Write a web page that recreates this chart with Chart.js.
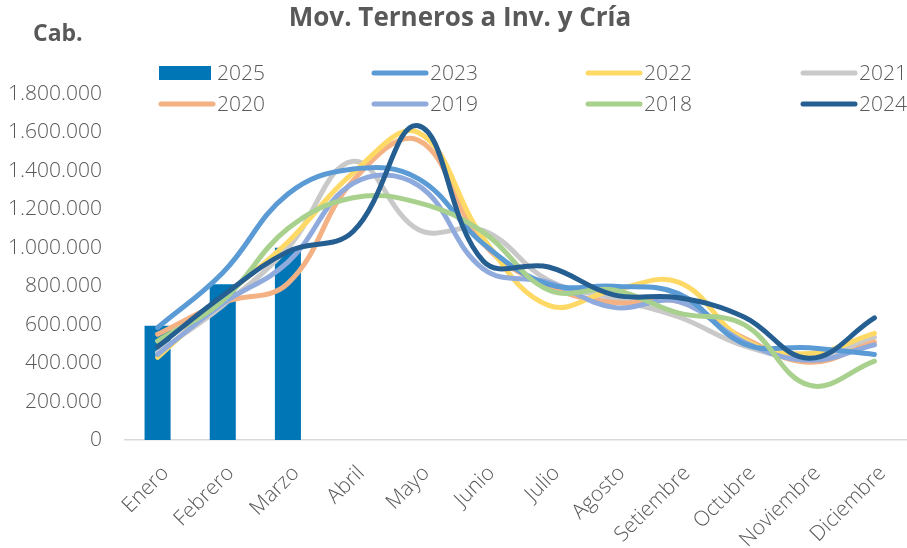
<!DOCTYPE html>
<html>
<head>
<meta charset="utf-8">
<script src="https://cdn.jsdelivr.net/npm/chart.js@4"></script>
<style>
  html, body { margin: 0; padding: 0; background: #fff; }
  #wrap { width: 907px; height: 548px; }
</style>
</head>
<body>
<div id="wrap"><canvas id="movChart" width="907" height="548"></canvas></div>
<script>
// Datos (cabezas por mes)
const meses = ['Enero', 'Febrero', 'Marzo', 'Abril', 'Mayo', 'Junio', 'Julio', 'Agosto', 'Setiembre', 'Octubre', 'Noviembre', 'Diciembre'];
const v2025 = [595000, 810000, 1000000, null, null, null, null, null, null, null, null, null];
const v2023 = [585000, 870000, 1280000, 1410000, 1360000, 1020000, 810000, 800000, 760000, 500000, 480000, 445000];
const v2022 = [430000, 740000, 1030000, 1390000, 1600000, 1050000, 700000, 780000, 820000, 520000, 450000, 555000];
const v2021 = [455000, 700000, 1000000, 1450000, 1095000, 1090000, 830000, 735000, 640000, 490000, 430000, 535000];
const v2020 = [550000, 715000, 815000, 1350000, 1560000, 1020000, 800000, 715000, 720000, 530000, 405000, 510000];
const v2019 = [445000, 710000, 925000, 1335000, 1325000, 890000, 820000, 690000, 720000, 510000, 415000, 495000];
const v2018 = [515000, 725000, 1100000, 1260000, 1235000, 1080000, 780000, 780000, 660000, 600000, 285000, 410000];
const v2024 = [485000, 750000, 980000, 1085000, 1635000, 930000, 900000, 755000, 740000, 640000, 425000, 635000];
const yTicks = [0, 200000, 400000, 600000, 800000, 1000000, 1200000, 1400000, 1600000, 1800000];

const gris = '#595959';
const fuente = "'Open Sans', sans-serif";

function linea(label, data, color, order) {
    return {
        type: 'line', label: label, data: data,
        borderColor: color, backgroundColor: color,
        borderWidth: 5, pointRadius: 0, tension: 0.4,
        borderCapStyle: 'round', fill: false, order: order
    };
}

// formato 1.800.000
function puntos(v) {
    return String(v).replace(/\B(?=(\d{3})+(?!\d))/g, '.');
}

// leyenda, titulo y "Cab." dibujados a mano (posiciones como en el original)
const extras = {
    id: 'extras',
    afterDraw(chart) {
        const c = chart.ctx;
        c.save();
        c.fillStyle = gris;
        c.textBaseline = 'middle';
        c.font = "bold 26px " + fuente;
        c.textAlign = 'center';
        c.fillText('Mov. Terneros a Inv. y Cría', 460, 19);
        c.font = "bold 23px " + fuente;
        c.textAlign = 'left';
        c.fillText('Cab.', 33, 34);

        const colX = [159, 372, 586, 801];
        const rowY = [73, 104];
        chart.data.datasets.forEach((ds, i) => {
            const x = colX[i % 4], y = rowY[Math.floor(i / 4)];
            if (ds.type === 'bar') {
                c.fillStyle = ds.backgroundColor;
                c.fillRect(x, y - 7, 52, 14);
            } else {
                c.strokeStyle = ds.borderColor;
                c.lineWidth = 5;
                c.lineCap = 'round';
                c.beginPath();
                c.moveTo(x + 2, y);
                c.lineTo(x + 54, y);
                c.stroke();
            }
            c.fillStyle = gris;
            c.font = "300 21px " + fuente;
            c.fillText(ds.label, x + 58, y + 1);
        });
        c.restore();
    }
};

const ctx = document.getElementById('movChart').getContext('2d');
new Chart(ctx, {
    data: {
        labels: meses,
        datasets: [
            { type: 'bar', label: '2025', data: v2025, backgroundColor: '#0076B6',
              barPercentage: 0.5, categoryPercentage: 0.8, order: 9 },
            linea('2023', v2023, '#5B9BD5', 4),
            linea('2022', v2022, '#FFD966', 6),
            linea('2021', v2021, '#C9C9C9', 8),
            linea('2020', v2020, '#F4B183', 7),
            linea('2019', v2019, '#8FAADC', 5),
            linea('2018', v2018, '#A9D18E', 3),
            linea('2024', v2024, '#255E91', 1)
        ]
    },
    options: {
        responsive: false,
        animation: false,
        layout: { padding: { top: 94, left: 10, right: 0, bottom: 0 } },
        plugins: { legend: { display: false }, title: { display: false }, tooltip: { enabled: false } },
        scales: {
            x: {
                offset: true,
                afterFit(axis) { axis.height = 108; axis.paddingLeft = 0; axis.paddingRight = 0; },
                grid: { display: false, drawTicks: false },
                border: { display: true, color: '#D9D9D9', width: 1.5 },
                ticks: { color: gris, font: { family: fuente, size: 21, weight: 300 },
                         minRotation: 45, maxRotation: 45, padding: 21, labelOffset: 8, autoSkip: false }
            },
            y: {
                min: 0, max: 1800000,
                afterBuildTicks(axis) { axis.ticks = yTicks.map(v => ({ value: v })); },
                afterFit(axis) { axis.width = 115; },
                grid: { display: false, drawTicks: false },
                border: { display: false },
                ticks: { color: gris, font: { family: fuente, size: 21, weight: 300 },
                         padding: 23, callback: v => puntos(v) }
            }
        }
    },
    plugins: [extras]
});
</script>
</body>
</html>
